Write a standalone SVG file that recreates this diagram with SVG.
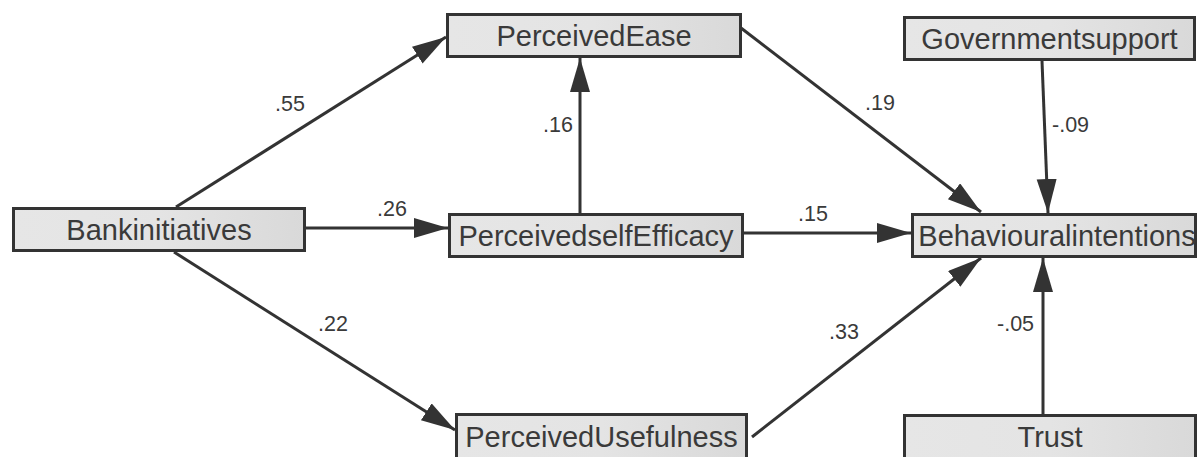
<svg xmlns="http://www.w3.org/2000/svg" width="1198" height="457" viewBox="0 0 1198 457">
<style>
.box{fill:url(#g);stroke:#333;stroke-width:3}
.t{font-family:"Liberation Sans",Arial,sans-serif;font-size:29px;fill:#3a3a3a;text-anchor:middle}
.l{font-family:"Liberation Sans",Arial,sans-serif;font-size:21.5px;fill:#3a3a3a}
.c{stroke:#333;stroke-width:3;fill:none;marker-end:url(#a)}
</style>
<defs>
<linearGradient id="g" x1="0" y1="0" x2="1" y2="0">
<stop offset="0" stop-color="#e6e6e6"/>
<stop offset="0.5" stop-color="#e4e4e4"/>
<stop offset="1" stop-color="#d9d9d9"/>
</linearGradient>
<marker id="a" markerUnits="userSpaceOnUse" markerWidth="36" markerHeight="22" refX="34" refY="10" orient="auto">
<path d="M0,0 L34,10 L0,20 Z" fill="#333"/>
</marker>
</defs>
<rect width="1198" height="457" fill="#fff"/>
<g id="connectors">
<line class="c" x1="176" y1="207" x2="446" y2="37"/>
<line class="c" x1="306" y1="228" x2="448" y2="228"/>
<line class="c" x1="174" y1="252" x2="455" y2="430"/>
<line class="c" x1="580" y1="213" x2="580" y2="58"/>
<line class="c" x1="741" y1="28" x2="981" y2="212"/>
<line class="c" x1="1042" y1="61" x2="1048" y2="213"/>
<line class="c" x1="744" y1="233" x2="911" y2="233"/>
<line class="c" x1="752" y1="437" x2="981" y2="258"/>
<line class="c" x1="1043" y1="414" x2="1043" y2="258"/>
</g>
<g id="labels">
<text class="l" x="275" y="111">.55</text>
<text class="l" x="377" y="216">.26</text>
<text class="l" x="543" y="132">.16</text>
<text class="l" x="318" y="331">.22</text>
<text class="l" x="865" y="110">.19</text>
<text class="l" x="1052" y="132">-.09</text>
<text class="l" x="798" y="221">.15</text>
<text class="l" x="829" y="339">.33</text>
<text class="l" x="997" y="331">-.05</text>
</g>
<g id="PerceivedEase"><rect class="box" x="447.5" y="14.5" width="293" height="42"/><text class="t" x="594" y="46">PerceivedEase</text></g>
<g id="Governmentsupport"><rect class="box" x="904.5" y="17.5" width="290" height="42"/><text class="t" x="1049.5" y="49">Governmentsupport</text></g>
<g id="Bankinitiatives"><rect class="box" x="13.5" y="208.5" width="291" height="42"/><text class="t" x="159" y="240">Bankinitiatives</text></g>
<g id="PerceivedselfEfficacy"><rect class="box" x="449.5" y="214.5" width="293" height="42"/><text class="t" x="596" y="246">PerceivedselfEfficacy</text></g>
<g id="Behaviouralintentions"><rect class="box" x="912.5" y="214.5" width="283" height="42"/><text class="t" x="1057" y="246">Behaviouralintentions</text></g>
<g id="PerceivedUsefulness"><rect class="box" x="456.5" y="414.5" width="290" height="50"/><text class="t" x="601.5" y="447">PerceivedUsefulness</text></g>
<g id="Trust"><rect class="box" x="904.5" y="415.5" width="291" height="50"/><text class="t" x="1050" y="447">Trust</text></g>
</svg>
